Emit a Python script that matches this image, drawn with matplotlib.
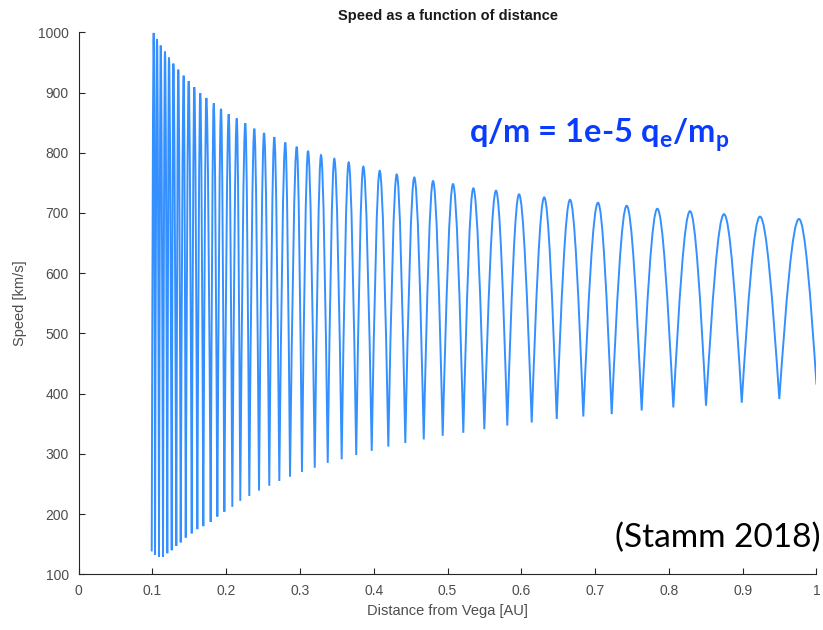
import matplotlib.pyplot as plt
from matplotlib.path import Path
from matplotlib.patches import PathPatch

plt.rcParams['font.family'] = ['Liberation Sans', 'DejaVu Sans']

# Local minima of the speed curve (distance in AU, speed in km/s)
trough_au = [0.0992, 0.1037, 0.1091, 0.1145, 0.1203, 0.1263, 0.1325, 0.1385, 0.1453, 0.1534,
             0.1610, 0.1691, 0.1791, 0.1881, 0.1976, 0.2084, 0.2192, 0.2314, 0.2446, 0.2585,
             0.2721, 0.2866, 0.3028, 0.3201, 0.3377, 0.3566, 0.3763, 0.3973, 0.4198, 0.4428,
             0.4678, 0.4935, 0.5214, 0.5499, 0.5810, 0.6141, 0.6480, 0.6840, 0.7225, 0.7631,
             0.8060, 0.8503, 0.8987, 0.9496]
trough_kms = [138, 132, 129, 129, 135, 140, 147, 153, 161, 168,
              175, 180, 187, 196, 204, 212, 222, 230, 239, 247,
              255, 262, 270, 277, 285, 291, 298, 305, 312, 318,
              324, 330, 335, 341, 347, 352, 358, 362, 366, 372,
              377, 380, 385, 391]

# Local maxima of the speed curve
peak_au = [0.1019, 0.1064, 0.1114, 0.1172, 0.1226, 0.1285, 0.1352, 0.1425, 0.1493, 0.1569,
           0.1650, 0.1732, 0.1832, 0.1931, 0.2035, 0.2144, 0.2260, 0.2382, 0.2514, 0.2653,
           0.2802, 0.2957, 0.3110, 0.3286, 0.3466, 0.3661, 0.3859, 0.4081, 0.4312, 0.4550,
           0.4804, 0.5075, 0.5350, 0.5657, 0.5969, 0.6310, 0.6660, 0.7039, 0.7428, 0.7843,
           0.8286, 0.8747, 0.9234, 0.9763]
peak_kms = [999, 989, 978, 968, 958, 948, 938, 928, 919, 909,
            899, 891, 882, 873, 864, 857, 849, 840, 833, 826,
            817, 810, 803, 796, 790, 784, 777, 770, 764, 759,
            753, 748, 741, 737, 731, 726, 722, 717, 712, 707,
            703, 698, 694, 690]

# Last sample of the trajectory
end_au, end_kms = 1.0, 415

x_ticks = [0, 0.1, 0.2, 0.3, 0.4, 0.5, 0.6, 0.7, 0.8, 0.9, 1]
x_labels = ['0', '0.1', '0.2', '0.3', '0.4', '0.5', '0.6', '0.7', '0.8', '0.9', '1']
y_ticks = [100, 200, 300, 400, 500, 600, 700, 800, 900, 1000]

# Each rise/fall is drawn as a cubic Bezier: steep at the minima, flat at the maxima
K = 0.5236


def rise(x0, y0, x1, y1):
    dx = x1 - x0
    return [(x0 + dx / 3, y0 + K * (y1 - y0)), (x0 + 2 * dx / 3, y1), (x1, y1)]


def fall(x0, y0, x1, y1):
    dx = x1 - x0
    return [(x0 + dx / 3, y0), (x0 + 2 * dx / 3, y1 + K * (y0 - y1)), (x1, y1)]


verts = [(trough_au[0], trough_kms[0])]
codes = [Path.MOVETO]
n = len(peak_au)
for i in range(n):
    verts += rise(trough_au[i], trough_kms[i], peak_au[i], peak_kms[i])
    codes += [Path.CURVE4] * 3
    if i + 1 < n:
        nx, ny = trough_au[i + 1], trough_kms[i + 1]
    else:
        nx, ny = end_au, end_kms
    verts += fall(peak_au[i], peak_kms[i], nx, ny)
    codes += [Path.CURVE4] * 3

fig = plt.figure(figsize=(8.23, 6.3), dpi=100)
ax = fig.add_axes([0.0954, 0.0884, 0.8967, 0.8603])

ax.add_patch(PathPatch(Path(verts, codes), fill=False, edgecolor='#3590ff', lw=1.4))

ax.set_xlim(0, 1)
ax.set_ylim(100, 1000)
ax.set_xticks(x_ticks)
ax.set_xticklabels(x_labels)
ax.set_yticks(y_ticks)
for s in ['top', 'right']:
    ax.spines[s].set_visible(False)
for s in ['left', 'bottom']:
    ax.spines[s].set_color('#262626')
    ax.spines[s].set_linewidth(0.8)
ax.tick_params(direction='in', length=4, width=0.8, colors='#262626',
               labelcolor='#4d4d4d', labelsize=10, pad=7)

ax.set_xlabel('Distance from Vega [AU]', fontsize=10.5, color='#4d4d4d', labelpad=4)
ax.set_ylabel('Speed [km/s]', fontsize=10.5, color='#4d4d4d', labelpad=8)
ax.set_title('Speed as a function of distance', fontsize=10.5, fontweight='bold',
             color='#1a1a1a', pad=9)

fig.text(0.728, 0.773, r'q/m = 1e-5 q$_\mathregular{e}$/m$_\mathregular{p}$',
         color='#0a3cff', fontsize=23.5, fontweight='bold', family=['Lato', 'DejaVu Sans'],
         ha='center', va='baseline')
fig.text(0.997, 0.131, '(Stamm 2018)', color='black', fontsize=24,
         family=['Lato', 'DejaVu Sans'], ha='right', va='baseline')

fig.savefig('out.png', dpi=100)
